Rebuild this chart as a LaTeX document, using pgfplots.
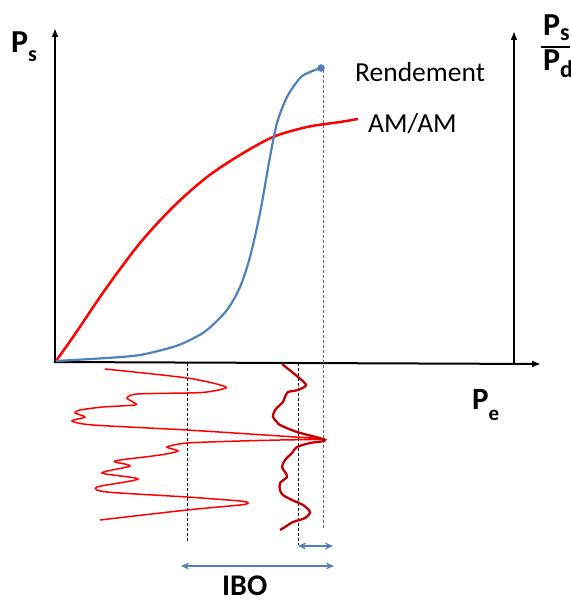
\documentclass[border=0pt]{standalone}
\usepackage{fontspec}
\setmainfont{Carlito}
\usepackage{pgfplots}
\pgfplotsset{compat=1.18}
\usetikzlibrary{arrows.meta}
\definecolor{cblue}{RGB}{79,129,189}
\definecolor{dred}{RGB}{192,0,0}
\begin{document}
\begin{tikzpicture}
\begin{axis}[width=570pt,height=601pt,scale only axis,xmin=0,xmax=570,ymin=0,ymax=601,
  y dir=reverse,hide axis,clip=false]
\addplot[draw=none] coordinates {(0,0) (570,601)};
% axes
\addplot[black,line width=2pt,-{Latex[length=9pt,width=7pt]}] coordinates {(55,363) (55,28)};
\addplot[black,line width=2pt,-{Latex[length=9pt,width=7pt]}] coordinates {(54,362) (541,364)};
\addplot[black,line width=2pt,-{Latex[length=9pt,width=7pt]}] coordinates {(514,364) (514,31)};
% dashed guides
\addplot[black,line width=0.8pt,dash pattern=on 3pt off 2pt] coordinates {(187,363) (187,543)};
\addplot[black,line width=0.8pt,dash pattern=on 3pt off 2pt] coordinates {(298,363) (298,545)};
\addplot[black!60,line width=0.9pt,dash pattern=on 3pt off 2pt] coordinates {(323,70) (323,528)};
% AM/AM
\addplot[red,line width=2.5pt,smooth] coordinates {(56,361) (73,337) (107,287) (140,243) (173,207) (207,177) (240,155) (273,137) (307,127) (340,122) (358,119)};
% Rendement
\addplot[cblue,line width=2.2pt,smooth] coordinates {(56,361) (107,358) (140,355) (173,347) (190,340) (207,330) (227,310) (240,287) (250,257) (260,213) (270,157) (277,123) (287,97) (300,78) (310,72) (321,68)};
\addplot[cblue,only marks,mark=*,mark size=3.5pt] coordinates {(321,68)};
% input spectrum
\addplot[red,line width=1.5pt,smooth,tension=0.45] coordinates {(105,369) (187,378) (226,387) (207,392) (187,393) (137,394) (127,398) (133,402) (135,405) (103,407) (80,410) (75,413) (85,417) (72,421) (93,425) (187,430) (280,436) (323,439) (280,440) (240,441) (187,443) (167,447) (178,451) (160,455) (120,460) (115,462) (130,466) (102,473) (138,479) (97,487) (107,492) (187,497) (240,501) (248,503) (240,505) (187,510) (100,520)};
% output spectrum
\addplot[dred,line width=2.3pt,smooth,tension=0.5] coordinates {(282,364) (298,377) (306,385) (298,390) (288,392) (285,397) (283,402) (280,405) (275,410) (273,417) (277,422) (280,425) (297,432) (325,440) (310,443) (297,447) (292,453) (285,460) (282,467) (285,472) (287,477) (280,483) (280,490) (283,495) (292,500) (303,505) (310,512) (305,518) (293,522) (285,527) (280,530)};
% IBO arrows
\addplot[cblue,line width=2pt,{Stealth[length=8pt,width=7pt]}-{Stealth[length=8pt,width=7pt]}] coordinates {(298,546) (333,546)};
\addplot[cblue,line width=2pt,{Stealth[length=8pt,width=7pt]}-{Stealth[length=8pt,width=7pt]}] coordinates {(181,566) (334,566)};
% fraction bar
\addplot[black,line width=1.6pt] coordinates {(541,47) (570,47)};
% labels
\node[anchor=base west,inner sep=0,font=\fontsize{27.5}{30}\selectfont] at (axis cs:355,82) {Rendement};
\node[anchor=base west,inner sep=0,font=\fontsize{27.5}{30}\selectfont] at (axis cs:368,133) {AM/AM};
\node[anchor=base west,inner sep=0,font=\bfseries\fontsize{32}{34}\selectfont] at (axis cs:11,53) {P\raisebox{-9pt}{\fontsize{22}{22}\selectfont s}};
\node[anchor=base west,inner sep=0,font=\bfseries\fontsize{31}{34}\selectfont] at (axis cs:472,409) {P\raisebox{-11pt}{\fontsize{21}{21}\selectfont e}};
\node[anchor=base west,inner sep=0,font=\bfseries\fontsize{30}{34}\selectfont] at (axis cs:222,595) {IBO};
\node[overlay,anchor=base west,inner sep=0,font=\bfseries\fontsize{32}{34}\selectfont] at (axis cs:543,36) {P\raisebox{-5pt}{\fontsize{24}{24}\selectfont s}};
\node[overlay,anchor=base west,inner sep=0,font=\bfseries\fontsize{32}{34}\selectfont] at (axis cs:543,71) {P\raisebox{-7pt}{\fontsize{24}{24}\selectfont dc}};
\end{axis}
\end{tikzpicture}
\end{document}
